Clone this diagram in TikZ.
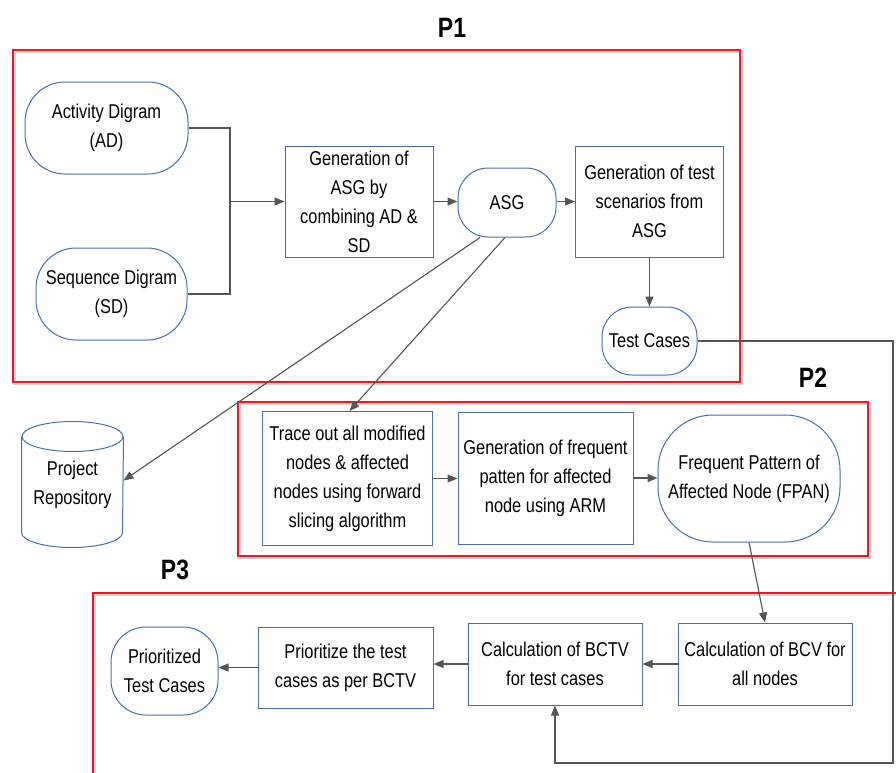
\documentclass[tikz,border=0pt]{standalone}
\usepackage{fontspec}
\setmainfont{Liberation Sans}[FakeStretch=0.82]
\usetikzlibrary{arrows.meta}
\definecolor{boxblue}{RGB}{70,110,175}
\definecolor{framered}{RGB}{225,30,40}
\definecolor{wiregray}{RGB}{85,85,85}
\tikzset{
  box/.style={draw=boxblue, line width=1pt, align=center, inner sep=0pt,
    font=\fontsize{20}{29}\selectfont},
  term/.style={box, rounded corners=#1},
  store/.style={box, draw=none},
  cyl/.style={draw=boxblue, line width=1pt},
  arr/.style={draw=wiregray, line width=1.1pt, -{Triangle[length=10pt,width=8pt]}},
  wire/.style={draw=wiregray, line width=1.1pt},
  part/.style={draw=framered, line width=2.6pt},
  partshade/.style={draw=framered!25, line width=3pt, shift={(1.5,1.5)}},
  tag/.style={font=\fontsize{28}{30}\selectfont\bfseries}
}
\begin{document}
\begin{tikzpicture}[x=1pt,y=-1pt]
        \useasboundingbox (0,0) rectangle (896,772);

        % P1
        \draw [partshade] (13,50) rectangle (740,382);
        \draw [part] (13,50) rectangle (740,382);
        \node (P1) at (452,28) [tag] {P1};
        \node (AD) at (106.5,128) [term=40pt, minimum width=163pt, minimum height=92pt] {Activity Digram\\(AD)};
        \node (SD) at (111.5,294) [term=40pt, minimum width=151pt, minimum height=92pt] {Sequence Digram\\(SD)};
        \node (GASG) at (359,201.5) [box, minimum width=148pt, minimum height=111pt] {Generation of\\ASG by\\combining AD \&\\SD};
        \node (ASG) at (507,202.5) [term=30pt, minimum width=98pt, minimum height=69pt] {ASG};
        \node (GTS) at (649.5,201.5) [box, minimum width=148pt, minimum height=111pt] {Generation of test\\scenarios from\\ASG};
        \node (TC) at (649.5,341) [term=30pt, minimum width=95pt, minimum height=68pt] {Test Cases};

        \coordinate (jn) at (230,201.5);
        \draw [wire] (AD.east) -| (jn) |- (SD.east);
        \draw [arr] (jn) -- (GASG.west);
        \draw [arr] (GASG.east) -- (ASG.west |- GASG.east);
        \draw [arr] (ASG.east |- GTS.west) -- (GTS.west);
        \draw [arr] (GTS.south) -- (TC.north);

        % repository
        \node (PR) at (72.5,484.5) [store, minimum width=101pt, minimum height=125pt] {Project\\Repository};
        \draw [cyl] ([yshift=-15pt]PR.north west) -- ([yshift=15pt]PR.south west)
          arc [start angle=180, end angle=360, x radius=50.5pt, y radius=15pt]
          -- ([yshift=-15pt]PR.north east);
        \draw [cyl] ([yshift=-15pt]PR.north) ellipse [x radius=50.5pt, y radius=15pt];

        % P2
        \draw [partshade] (238,402) rectangle (868,556);
        \draw [part] (238,402) rectangle (868,556);
        \node (P2) at (813,378) [tag] {P2};
        \node (TR) at (347.5,478.5) [box, minimum width=170pt, minimum height=134pt] {Trace out all modified\\nodes \& affected\\nodes using forward\\slicing algorithm};
        \node (GFP) at (545.5,478) [box, minimum width=175pt, minimum height=132pt] {Generation of frequent\\patten for affected\\node using ARM};
        \node (FPAN) at (749,478.5) [term=55pt, minimum width=182pt, minimum height=127pt] {Frequent Pattern of\\Affected Node (FPAN)};

        \draw [arr] (TR.east) -- (GFP.west |- TR.east);
        \draw [arr] (GFP.east) -- (FPAN.west |- GFP.east);
        \draw [arr] ([xshift=-27pt]ASG.south) -- ([yshift=4pt]PR.east);
        \draw [arr] ([xshift=-2pt]ASG.south) -- ([xshift=2pt]TR.north);

        % P3
        \draw [partshade] (900,593) -- (93,593) -- (93,776);
        \draw [part] (900,593) -- (93,593) -- (93,776);
        \node (P3) at (175,570) [tag] {P3};
        \node (PTC) at (164.5,671) [term=35pt, minimum width=107pt, minimum height=88pt] {Prioritized\\Test Cases};
        \node (PRI) at (345.5,667.5) [box, minimum width=175pt, minimum height=81pt] {Prioritize the test\\cases as per BCTV};
        \node (BCTV) at (555,664) [box, minimum width=174pt, minimum height=82pt] {Calculation of BCTV\\for test cases};
        \node (BCV) at (765,664) [box, minimum width=174pt, minimum height=82pt] {Calculation of BCV for\\all nodes};

        \draw [arr] (FPAN.south) -- (BCV.north);
        \draw [arr] (BCV.west) -- (BCTV.east);
        \draw [arr] (BCTV.west) -- (PRI.east |- BCTV.west);
        \draw [arr] (PRI.west) -- (PTC.east |- PRI.west);

        \coordinate (loop) at (893,763);
        \draw [arr] (TC.east) -| (loop) -| (BCTV.south);
      \end{tikzpicture}
\end{document}
